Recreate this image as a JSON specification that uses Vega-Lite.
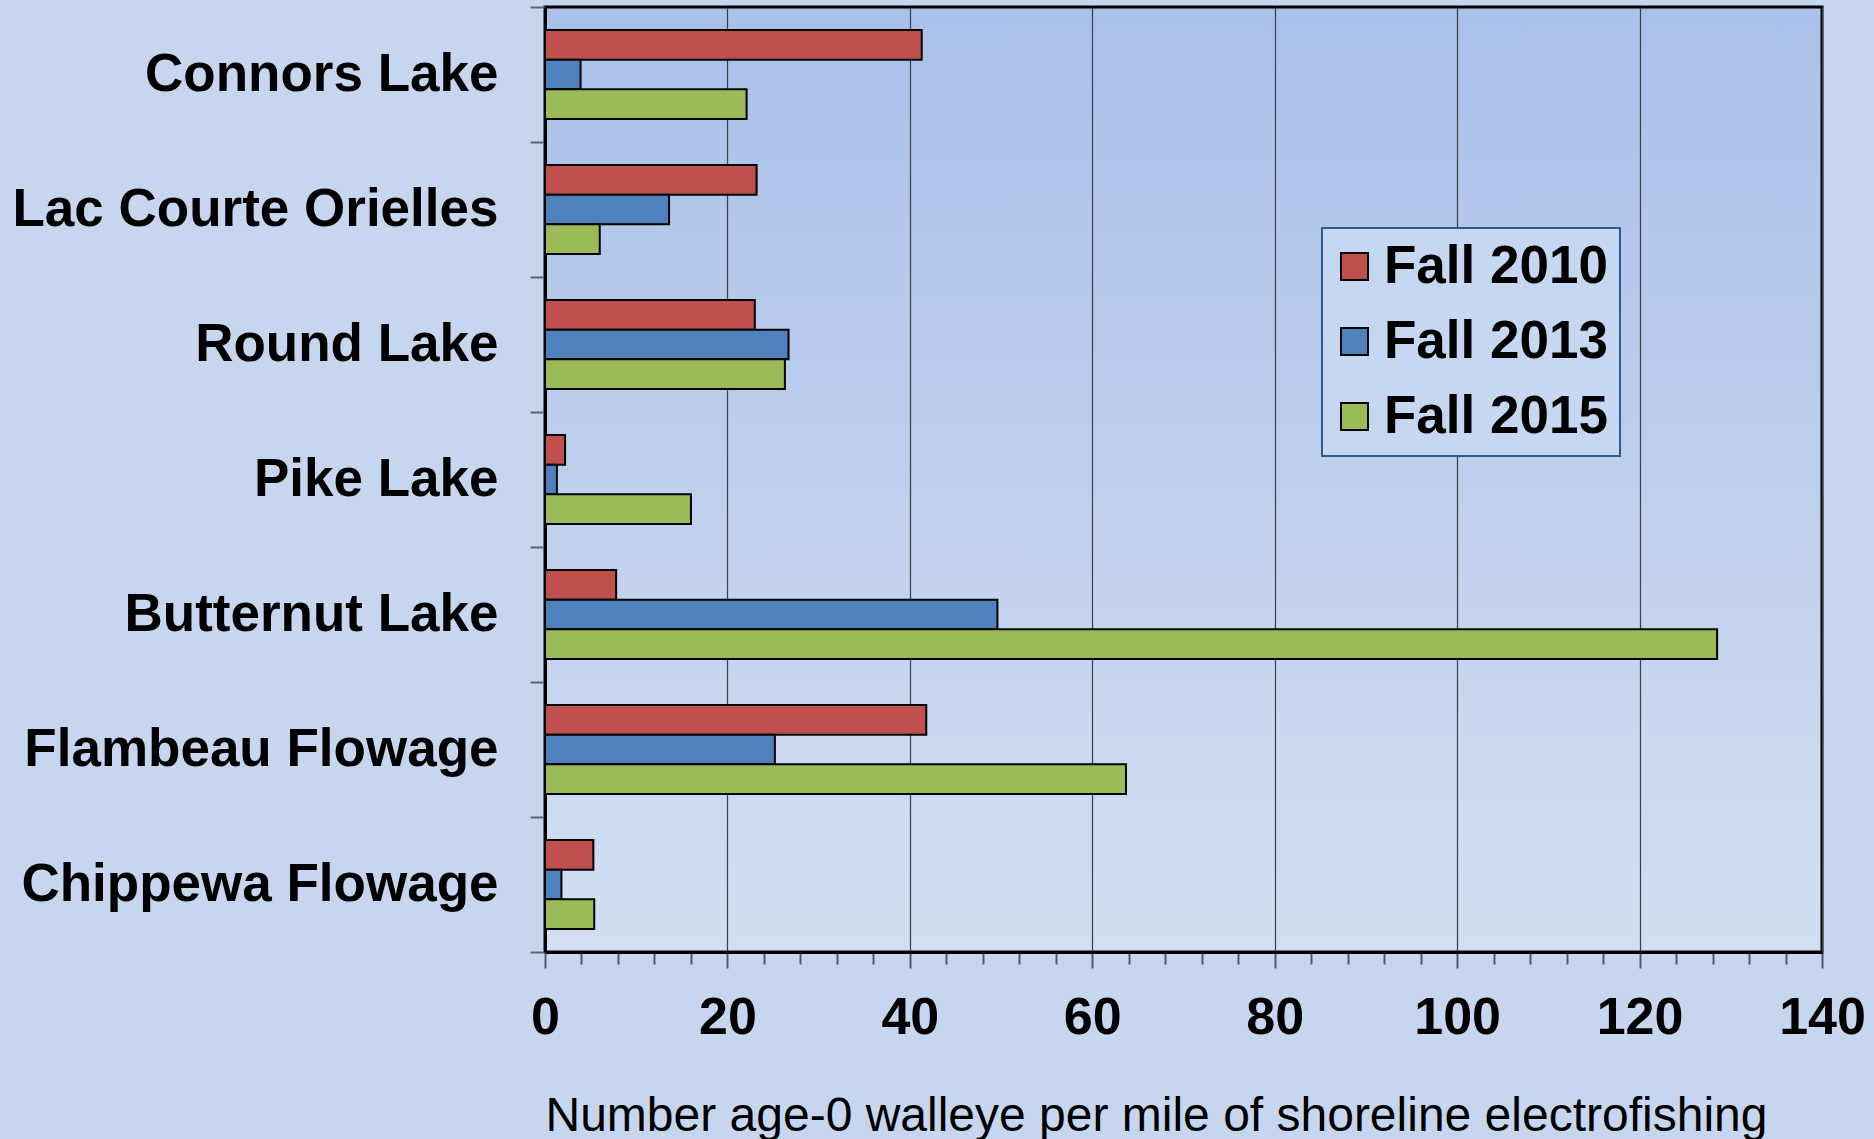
{
  "$schema": "https://vega.github.io/schema/vega-lite/v6.json",
  "width": 1277,
  "height": 945,
  "autosize": {"type": "none"},
  "padding": {"left": 545, "top": 7, "right": 52, "bottom": 187},
  "background": "#C7D6EF",
  "config": {
    "font": "Liberation Sans",
    "legend": {"strokeWidth": 2},
    "view": {
      "stroke": "#000000",
      "strokeWidth": 3,
      "fill": {"gradient": "linear", "x1": 0, "y1": 0, "x2": 0, "y2": 1,
        "stops": [{"offset": 0, "color": "#A9C0E8"}, {"offset": 1, "color": "#D3DEF2"}]}
    }
  },
  "data": {
    "values": [
      {"lake": "Connors Lake", "year": "Fall 2010", "value": 41.3},
      {"lake": "Connors Lake", "year": "Fall 2013", "value": 3.9},
      {"lake": "Connors Lake", "year": "Fall 2015", "value": 22.1},
      {"lake": "Lac Courte Orielles", "year": "Fall 2010", "value": 23.2},
      {"lake": "Lac Courte Orielles", "year": "Fall 2013", "value": 13.6},
      {"lake": "Lac Courte Orielles", "year": "Fall 2015", "value": 6.0},
      {"lake": "Round Lake", "year": "Fall 2010", "value": 23.0},
      {"lake": "Round Lake", "year": "Fall 2013", "value": 26.7},
      {"lake": "Round Lake", "year": "Fall 2015", "value": 26.3},
      {"lake": "Pike Lake", "year": "Fall 2010", "value": 2.2},
      {"lake": "Pike Lake", "year": "Fall 2013", "value": 1.3},
      {"lake": "Pike Lake", "year": "Fall 2015", "value": 16.0},
      {"lake": "Butternut Lake", "year": "Fall 2010", "value": 7.8},
      {"lake": "Butternut Lake", "year": "Fall 2013", "value": 49.6},
      {"lake": "Butternut Lake", "year": "Fall 2015", "value": 128.5},
      {"lake": "Flambeau Flowage", "year": "Fall 2010", "value": 41.8},
      {"lake": "Flambeau Flowage", "year": "Fall 2013", "value": 25.2},
      {"lake": "Flambeau Flowage", "year": "Fall 2015", "value": 63.7},
      {"lake": "Chippewa Flowage", "year": "Fall 2010", "value": 5.3},
      {"lake": "Chippewa Flowage", "year": "Fall 2013", "value": 1.8},
      {"lake": "Chippewa Flowage", "year": "Fall 2015", "value": 5.4}
    ]
  },
  "mark": {"type": "bar", "stroke": "#000000", "strokeWidth": 2},
  "encoding": {
    "y": {
      "field": "lake",
      "type": "nominal",
      "sort": ["Connors Lake", "Lac Courte Orielles", "Round Lake", "Pike Lake", "Butternut Lake", "Flambeau Flowage", "Chippewa Flowage"],
      "scale": {"paddingInner": 0, "paddingOuter": 0},
      "axis": {
        "title": null,
        "labelFont": "Liberation Sans",
        "labelFontSize": 53,
        "labelFontWeight": "bold",
        "labelColor": "#000000",
        "labelPadding": 32,
        "labelLimit": 800,
        "tickBand": "extent",
        "tickSize": 15,
        "tickWidth": 2,
        "tickColor": "#5A6270",
        "domainColor": "#000000",
        "domainWidth": 3,
        "grid": false
      }
    },
    "yOffset": {
      "field": "year",
      "type": "nominal",
      "sort": ["Fall 2010", "Fall 2013", "Fall 2015"],
      "scale": {"paddingInner": 0, "paddingOuter": 0.77}
    },
    "x": {
      "field": "value",
      "type": "quantitative",
      "scale": {"domain": [0, 140], "nice": false},
      "axis": {
        "values": [0, 4, 8, 12, 16, 20, 24, 28, 32, 36, 40, 44, 48, 52, 56, 60, 64, 68, 72, 76, 80, 84, 88, 92, 96, 100, 104, 108, 112, 116, 120, 124, 128, 132, 136, 140],
        "title": "Number age-0 walleye per mile of shoreline electrofishing",
        "titleFont": "Liberation Sans",
        "titleFontSize": 48,
        "titleFontWeight": "normal",
        "titleColor": "#000000",
        "titleAnchor": "start",
        "titleAlign": "left",
        "titleBaseline": "alphabetic",
        "titleX": 0,
        "titleY": 178,
        "titleLimit": 2000,
        "labelExpr": "datum.value % 20 === 0 ? datum.label : ''",
        "labelFont": "Liberation Sans",
        "labelFontSize": 52,
        "labelFontWeight": "bold",
        "labelColor": "#000000",
        "labelBaseline": "alphabetic",
        "labelPadding": 65,
        "labelFlush": false,
        "labelOverlap": false,
        "tickSize": {"condition": {"test": "datum.value % 20 === 0", "value": 16}, "value": 12},
        "tickColor": "#555A62",
        "tickWidth": 2,
        "grid": true,
        "gridColor": "#3A3F48",
        "gridWidth": 1.2,
        "gridOpacity": {"condition": {"test": "datum.value % 20 === 0", "value": 1}, "value": 0},
        "domainColor": "#000000",
        "domainWidth": 3
      }
    },
    "color": {
      "field": "year",
      "type": "nominal",
      "scale": {"domain": ["Fall 2010", "Fall 2013", "Fall 2015"], "range": ["#C0504D", "#4F81BD", "#9BBB59"]},
      "legend": {
        "title": null,
        "orient": "none",
        "legendX": 777,
        "legendY": 221,
        "direction": "vertical",
        "fillColor": "#C6D8F1",
        "strokeColor": "#2E5B93",
        "padding": 12,
        "symbolType": "square",
        "symbolSize": 729,
        "symbolOffset": -6,
        "symbolStrokeColor": "#000000",
        "symbolStrokeWidth": 2,
        "symbolOpacity": 1,
        "labelFont": "Liberation Sans",
        "labelFontSize": 53,
        "labelFontWeight": "bold",
        "labelColor": "#000000",
        "labelLimit": 600,
        "labelOffset": 3,
        "rowPadding": 21
      }
    }
  }
}
